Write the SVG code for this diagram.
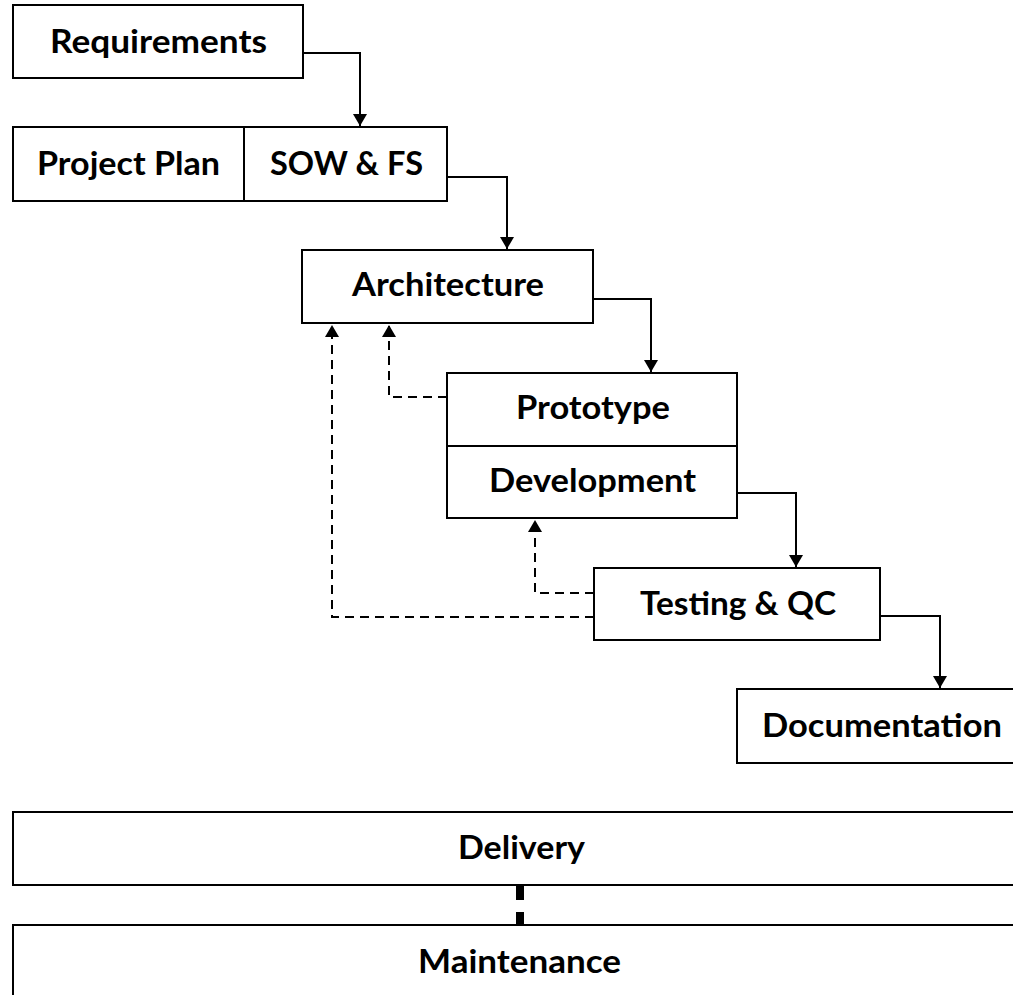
<svg xmlns="http://www.w3.org/2000/svg" width="1013" height="995" viewBox="0 0 1013 995">
<style>
.box{fill:#fff;stroke:#000;stroke-width:2}
.lbl{font-family:Lato,"Open Sans","Liberation Sans",sans-serif;font-weight:bold;font-size:32px;fill:#000;text-anchor:middle}
.c{fill:none;stroke:#000;stroke-width:2}
.d{fill:none;stroke:#000;stroke-width:2;stroke-dasharray:9 6}
</style>
<defs>
<marker id="ah" viewBox="0 0 12 14" refX="12" refY="7" markerWidth="12" markerHeight="14" markerUnits="userSpaceOnUse" orient="auto">
<path d="M0,0 L12,7 L0,14 Z" fill="#000"/>
</marker>
</defs>
<rect width="1013" height="995" fill="#fff"/>
<g id="connectors">
<path class="c" d="M303,53 H360 V126" marker-end="url(#ah)"/>
<path class="c" d="M447,177 H507 V249" marker-end="url(#ah)"/>
<path class="c" d="M593,299 H651 V372" marker-end="url(#ah)"/>
<path class="c" d="M737,493 H796 V567" marker-end="url(#ah)"/>
<path class="c" d="M880,616 H940 V688" marker-end="url(#ah)"/>
<path class="d" d="M447,397 H389 V325" marker-end="url(#ah)"/>
<path class="d" d="M594,593 H535 V520" marker-end="url(#ah)"/>
<path class="d" d="M594,617 H332 V325" marker-end="url(#ah)"/>
<path d="M520,885 V925" fill="none" stroke="#000" stroke-width="8" stroke-dasharray="15 12"/>
</g>
<g id="requirements">
<rect class="box" x="13" y="5" width="290" height="73"/>
<text class="lbl" x="158.5" y="52.5" textLength="217" lengthAdjust="spacingAndGlyphs">Requirements</text>
</g>
<g id="project-plan">
<rect class="box" x="13" y="127" width="231" height="74"/>
<text class="lbl" x="128.5" y="175" textLength="183" lengthAdjust="spacingAndGlyphs">Project Plan</text>
</g>
<g id="sow-fs">
<rect class="box" x="244" y="127" width="203" height="74"/>
<text class="lbl" x="346.5" y="175" textLength="153" lengthAdjust="spacingAndGlyphs">SOW &amp; FS</text>
</g>
<g id="architecture">
<rect class="box" x="302" y="250" width="291" height="73"/>
<text class="lbl" x="448" y="296" textLength="192" lengthAdjust="spacingAndGlyphs">Architecture</text>
</g>
<g id="prototype">
<rect class="box" x="447" y="373" width="290" height="73"/>
<text class="lbl" x="593" y="419" textLength="154" lengthAdjust="spacingAndGlyphs">Prototype</text>
</g>
<g id="development">
<rect class="box" x="447" y="446" width="290" height="72"/>
<text class="lbl" x="592.5" y="492" textLength="207" lengthAdjust="spacingAndGlyphs">Development</text>
</g>
<g id="testing-qc">
<rect class="box" x="594" y="568" width="286" height="72"/>
<text class="lbl" x="738" y="615" textLength="196" lengthAdjust="spacingAndGlyphs">Testing &amp; QC</text>
</g>
<g id="documentation">
<rect class="box" x="737" y="689" width="290" height="74"/>
<text class="lbl" x="882" y="737" textLength="240" lengthAdjust="spacingAndGlyphs">Documentation</text>
</g>
<g id="delivery">
<rect class="box" x="13" y="812" width="1010" height="73"/>
<text class="lbl" x="521.5" y="859" textLength="127" lengthAdjust="spacingAndGlyphs">Delivery</text>
</g>
<g id="maintenance">
<rect class="box" x="13" y="925" width="1010" height="80"/>
<text class="lbl" x="519.5" y="973" textLength="203" lengthAdjust="spacingAndGlyphs">Maintenance</text>
</g>
</svg>
